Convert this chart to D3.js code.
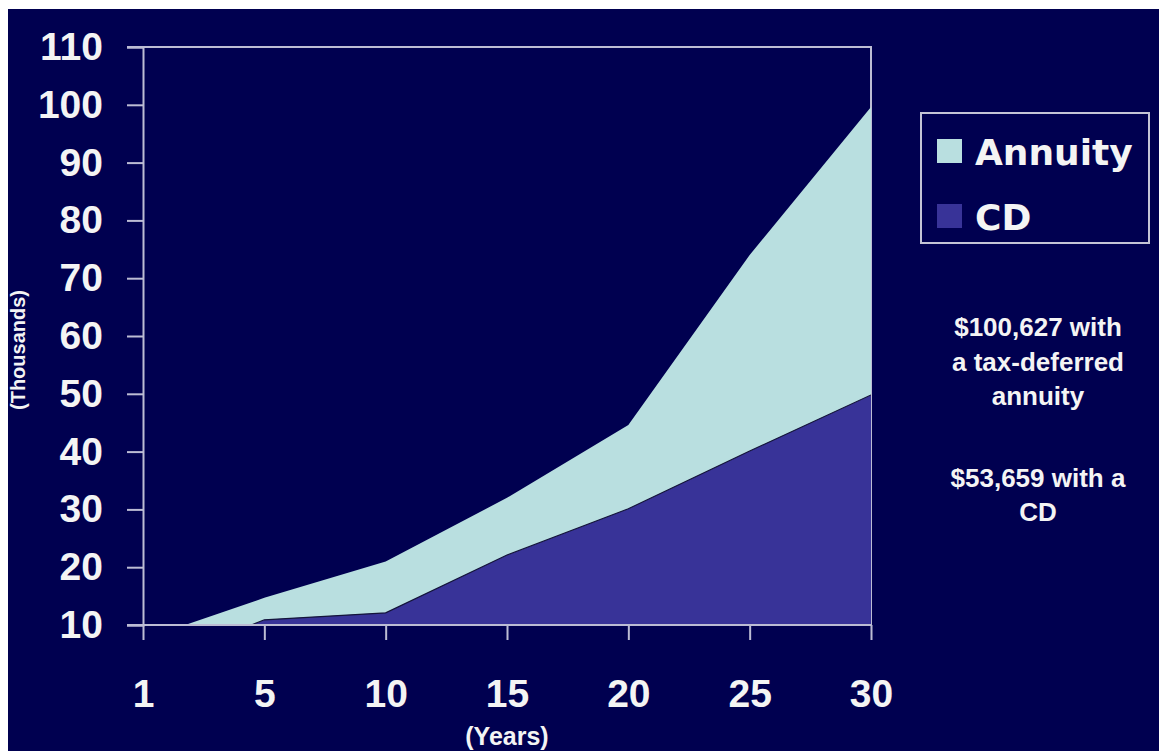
<!DOCTYPE html>
<html>
<head>
<meta charset="utf-8">
<script src="https://cdn.jsdelivr.net/npm/d3@7"></script>
<style>
  html, body { margin: 0; padding: 0; background: #ffffff; }
  svg { display: block; }
</style>
</head>
<body>
<svg id="chart" width="1159" height="751"></svg>
<script>
// ---- data ----
const years = ["1", "5", "10", "15", "20", "25", "30"];
const annuity = [7.5, 14.7, 21.0, 32.0, 44.6, 74.0, 99.6];
const cd = [2.5, 10.9, 12.1, 22.1, 30.1, 40.1, 49.8];
const yTicks = [10, 20, 30, 40, 50, 60, 70, 80, 90, 100, 110];
const seriesNames = ["Annuity", "CD"];
const noteLines1 = ["$100,627 with", "a tax-deferred", "annuity"];
const noteLines2 = ["$53,659 with a", "CD"];

// ---- styles ----
const BG = "#000050";
const C_ANN = "#b9dfe0";
const C_CD = "#383398";
const AXIS = "#bcbcd4";
const TXT = "#f4f4f4";

const svg = d3.select("#chart");
svg.append("rect").attr("x", 8).attr("y", 9).attr("width", 1159 - 8).attr("height", 751 - 9).attr("fill", BG);

const x = d3.scalePoint().domain(years).range([143, 871]);
const y = d3.scaleLinear().domain([10, 110]).range([625, 47]);

// frame (top + right), behind areas
svg.append("path")
  .attr("d", `M${x.range()[0] - 16},${y(110)}H${x.range()[1]}V${y(10)}`)
  .attr("fill", "none").attr("stroke", AXIS).attr("stroke-width", 2);

const defs = svg.append("defs");
defs.append("clipPath").attr("id", "plotclip")
  .append("rect").attr("x", x.range()[0]).attr("y", y(110))
  .attr("width", x.range()[1] - x.range()[0]).attr("height", y(10) - y(110));

const g = svg.append("g").attr("clip-path", "url(#plotclip)");

const area = d3.area()
  .x((d, i) => x(years[i]))
  .y0(y(10))
  .y1(d => y(d));
const line = d3.line().x((d, i) => x(years[i])).y(d => y(d));

g.append("path").datum(annuity).attr("d", area).attr("fill", C_ANN);
g.append("path").datum(cd).attr("d", area).attr("fill", C_CD);
g.append("path").datum(cd).attr("d", line).attr("fill", "none").attr("stroke", "#14143a").attr("stroke-width", 1.2);

// axes
const yAxis = svg.append("g").attr("transform", `translate(${x.range()[0]},0)`)
  .call(d3.axisLeft(y).tickValues(yTicks).tickSize(16).tickPadding(24).tickFormat(d3.format("d")));
const xAxis = svg.append("g").attr("transform", `translate(0,${y(10)})`)
  .call(d3.axisBottom(x).tickSize(15).tickPadding(39));

[yAxis, xAxis].forEach(ax => {
  ax.select(".domain").attr("stroke", AXIS).attr("stroke-width", 2);
  ax.selectAll(".tick line").attr("stroke", AXIS).attr("stroke-width", 2);
  ax.selectAll(".tick text")
    .attr("fill", TXT)
    .style("font-family", "'Liberation Sans', Arial, sans-serif")
    .style("font-weight", "bold")
    .style("font-size", "39px");
});
// extend x-axis line to the left, under the y tick at 10
xAxis.select(".domain").attr("d", `M${x.range()[0] - 16},0H${x.range()[1]}`);
xAxis.selectAll(".tick line").attr("y1", 0);

// axis titles
svg.append("text").text("(Years)")
  .attr("x", x("15")).attr("y", 745)
  .attr("text-anchor", "middle").attr("fill", TXT)
  .style("font-family", "'Liberation Sans', Arial, sans-serif")
  .style("font-weight", "bold").style("font-size", "25px");

svg.append("text").text("(Thousands)")
  .attr("transform", `translate(25,350) rotate(-90)`)
  .attr("text-anchor", "middle").attr("fill", TXT)
  .style("font-family", "'Liberation Sans', Arial, sans-serif")
  .style("font-weight", "bold").style("font-size", "20px");

// legend
const legend = svg.append("g");
legend.append("rect").attr("x", 921).attr("y", 113).attr("width", 228).attr("height", 130)
  .attr("fill", "none").attr("stroke", "#c4c4d6").attr("stroke-width", 2);
const legColors = [C_ANN, C_CD];
const legBase = [165, 230];
seriesNames.forEach((name, i) => {
  legend.append("rect").attr("x", 937).attr("y", legBase[i] - 26).attr("width", 25).attr("height", 24)
    .attr("fill", legColors[i]);
  legend.append("text").text(name).attr("x", 975).attr("y", legBase[i])
    .attr("fill", TXT)
    .style("font-family", "'DejaVu Sans', Verdana, sans-serif")
    .style("font-weight", "bold").style("font-size", "36px");
});

// notes
const noteStyle = sel => sel.attr("text-anchor", "middle").attr("fill", TXT)
  .style("font-family", "'Liberation Sans', Arial, sans-serif")
  .style("font-weight", "bold").style("font-size", "26px");
noteLines1.forEach((t, i) => {
  svg.append("text").text(t).attr("x", 1038).attr("y", 336 + i * 34.5).call(noteStyle);
});
noteLines2.forEach((t, i) => {
  svg.append("text").text(t).attr("x", 1038).attr("y", 487 + i * 33.5).call(noteStyle);
});
</script>
</body>
</html>
